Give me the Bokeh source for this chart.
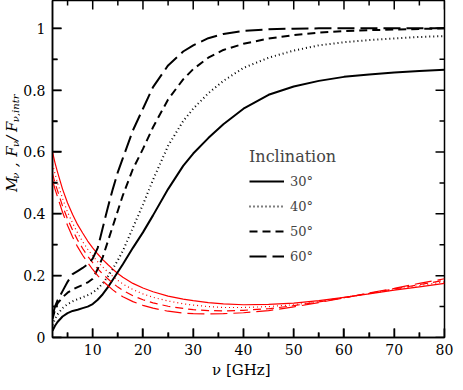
import math
from bokeh.plotting import figure
from bokeh.layouts import row
from bokeh.models import (Range1d, FixedTicker, LinearAxis, Legend, LegendItem, Label,
                          CustomJSTickFormatter)
from bokeh.embed import file_html
from bokeh.resources import INLINE

# frequency grid [GHz]
nu = [2, 2.5, 3, 4, 5, 6, 7, 8, 9, 10, 11, 12, 13, 14, 15, 16, 18, 20, 22, 25, 28, 30,
      33, 36, 40, 45, 50, 55, 60, 65, 70, 75, 80]

# M_nu (black) for inclinations 30,40,50,60 deg
m30 = [0.022, 0.038, 0.05, 0.068, 0.079, 0.086, 0.09, 0.095, 0.10, 0.108, 0.122, 0.14, 0.162,
       0.187, 0.212, 0.237, 0.29, 0.34, 0.395, 0.48, 0.555, 0.595, 0.645, 0.69, 0.74, 0.785,
       0.812, 0.83, 0.843, 0.851, 0.857, 0.862, 0.866]
m40 = [0.04, 0.06, 0.075, 0.095, 0.108, 0.117, 0.124, 0.13, 0.137, 0.145, 0.158, 0.175, 0.197,
       0.222, 0.25, 0.28, 0.355, 0.43, 0.51, 0.62, 0.70, 0.74, 0.79, 0.83, 0.872, 0.905,
       0.928, 0.945, 0.955, 0.962, 0.967, 0.972, 0.975]
m50 = [0.06, 0.09, 0.11, 0.13, 0.145, 0.155, 0.163, 0.17, 0.178, 0.19, 0.222, 0.26, 0.31,
       0.36, 0.41, 0.46, 0.545, 0.61, 0.68, 0.77, 0.835, 0.868, 0.905, 0.93, 0.95, 0.967,
       0.978, 0.986, 0.991, 0.994, 0.996, 0.998, 1.0]
m60 = [0.07, 0.10, 0.12, 0.15, 0.18, 0.205, 0.215, 0.225, 0.237, 0.255, 0.29, 0.355, 0.42,
       0.48, 0.535, 0.58, 0.67, 0.74, 0.81, 0.88, 0.925, 0.945, 0.968, 0.982, 0.992, 0.997,
       0.999, 1.0, 1.0, 1.0, 1.0, 1.0, 1.0]

# F_nu / F_nu,intr (red)
f30 = [0.60, 0.565, 0.535, 0.48, 0.435, 0.398, 0.365, 0.338, 0.312, 0.29, 0.27, 0.252, 0.236,
       0.221, 0.207, 0.195, 0.175, 0.16, 0.148, 0.134, 0.124, 0.119, 0.113, 0.109, 0.106,
       0.107, 0.111, 0.119, 0.13, 0.141, 0.153, 0.164, 0.175]
f40 = [0.56, 0.53, 0.50, 0.45, 0.405, 0.37, 0.338, 0.31, 0.286, 0.264, 0.245, 0.228, 0.212,
       0.198, 0.185, 0.173, 0.155, 0.141, 0.13, 0.118, 0.109, 0.105, 0.10, 0.097, 0.097,
       0.10, 0.106, 0.116, 0.129, 0.142, 0.155, 0.168, 0.18]
f50 = [0.53, 0.50, 0.475, 0.425, 0.383, 0.347, 0.315, 0.288, 0.263, 0.242, 0.222, 0.205, 0.19,
       0.176, 0.163, 0.152, 0.135, 0.122, 0.112, 0.101, 0.094, 0.09, 0.087, 0.086, 0.088,
       0.093, 0.103, 0.115, 0.129, 0.143, 0.157, 0.171, 0.185]
f60 = [0.51, 0.48, 0.455, 0.405, 0.362, 0.325, 0.293, 0.266, 0.242, 0.22, 0.20, 0.183, 0.168,
       0.154, 0.142, 0.132, 0.116, 0.104, 0.095, 0.085, 0.079, 0.077, 0.076, 0.077, 0.08,
       0.087, 0.099, 0.113, 0.128, 0.144, 0.159, 0.175, 0.19]

labels = ["30\u00b0", "40\u00b0", "50\u00b0", "60\u00b0"]
dashes = ["solid", "1 3", "8 5", "17 6"]
x_ticks = [10, 20, 30, 40, 50, 60, 70, 80]
x_minor = [5, 15, 25, 35, 45, 55, 65, 75]
y_ticks = [0, 0.2, 0.4, 0.6, 0.8, 1.0]
y_minor = [0.1, 0.3, 0.5, 0.7, 0.9]
X0, X1 = 2, 80
Y0, Y1 = 0, 1.09

SERIF = "DejaVu Serif"
FRAME_W, FRAME_H = 393, 337
MAJ, MIN = 9, 5  # tick lengths in px
H = 382

# ---------------- main plot ----------------
p = figure(width=435, height=H, output_backend="svg", toolbar_location=None,
           x_range=Range1d(X0, X1), y_range=Range1d(Y0, Y1),
           min_border_left=31, min_border_right=11, min_border_top=0,
           min_border_bottom=H - FRAME_H,
           x_axis_location=None, y_axis_location=None)
p.xgrid.visible = False
p.ygrid.visible = False
p.outline_line_color = "black"
p.outline_line_width = 1.5
p.background_fill_color = "white"
p.border_fill_color = "white"


def style_axis(ax, ticks, minor):
    ax.ticker = FixedTicker(ticks=ticks, minor_ticks=minor)
    ax.major_tick_in = MAJ
    ax.major_tick_out = 0
    ax.minor_tick_in = MIN
    ax.minor_tick_out = 0
    ax.axis_line_width = 1.5
    ax.major_tick_line_width = 1.5
    ax.minor_tick_line_width = 1.5
    ax.major_label_text_font = SERIF
    ax.major_label_text_font_size = "14px"
    ax.major_label_text_color = "black"


xb = LinearAxis()
style_axis(xb, x_ticks, x_minor)
xb.major_label_standoff = 6
xb.formatter = CustomJSTickFormatter(code="return tick.toFixed(0);")
xb.axis_label = "\u03bd    [GHz]"
xb.axis_label_text_font = SERIF
xb.axis_label_text_font_style = "normal"
xb.axis_label_text_font_size = "15px"
xb.axis_label_text_color = "black"
xb.axis_label_standoff = 3
p.add_layout(xb, "below")

yl = LinearAxis()
style_axis(yl, y_ticks, y_minor)
yl.major_label_standoff = 7
yl.formatter = CustomJSTickFormatter(
    code="return tick == 0 ? '0' : (Math.abs(tick - 1) < 1e-9 ? '1' : tick.toFixed(1));")
p.add_layout(yl, "left")

# inward ticks on all four edges, drawn as segments
ypx = (Y1 - Y0) / FRAME_H
xpx = (X1 - X0) / FRAME_W
for ticks, ln in ((x_ticks, MAJ), (x_minor, MIN)):
    n = len(ticks)
    p.segment(x0=ticks, y0=[Y0] * n, x1=ticks, y1=[Y0 + ln * ypx] * n,
              line_color="black", line_width=1.5)
    p.segment(x0=ticks, y0=[Y1] * n, x1=ticks, y1=[Y1 - ln * ypx] * n,
              line_color="black", line_width=1.5)
for ticks, ln in ((y_ticks, MAJ), (y_minor, MIN)):
    n = len(ticks)
    p.segment(x0=[X0] * n, y0=ticks, x1=[X0 + ln * xpx] * n, y1=ticks,
              line_color="black", line_width=1.5)
    p.segment(x0=[X1] * n, y0=ticks, x1=[X1 - ln * xpx] * n, y1=ticks,
              line_color="black", line_width=1.5)

black = [m30, m40, m50, m60]
red = [f30, f40, f50, f60]
items = []
for lab, dash, mb, fr in zip(labels, dashes, black, red):
    p.line(nu, fr, line_color="red", line_width=1.2, line_dash=dash)
    r = p.line(nu, mb, line_color="black", line_width=2, line_dash=dash)
    items.append(LegendItem(label=lab, renderers=[r]))

leg = Legend(items=items, location=(197, 70), title="Inclination",
             title_text_font=SERIF, title_text_font_size="16px", title_text_font_style="normal",
             label_text_font=SERIF, label_text_font_size="13px",
             glyph_width=35, glyph_height=22, label_height=22, spacing=3,
             label_standoff=6, padding=0, margin=0, title_standoff=4,
             border_line_alpha=0, background_fill_alpha=0)
p.add_layout(leg)

# ---------------- y-axis label strip (page-pixel coordinates) ----------------
ylab = figure(width=20, height=H, output_backend="svg", toolbar_location=None,
              x_range=Range1d(8, 28), y_range=Range1d(8 + H, 8),
              min_border=0, x_axis_location=None, y_axis_location=None)
ylab.grid.visible = False
ylab.outline_line_color = None
ylab.background_fill_color = "white"
ylab.border_fill_color = "white"

base_x, base_y = 19.5, 225
pieces = [
    ("M", 15, 0, 0),
    ("\u03bd", 10, 3, 15),
    (",", 15, 0, 28),
    ("F", 15, 0, 40),
    ("\u03bd", 10, 3, 51),
    ("/", 15, 0, 58),
    ("F", 15, 0, 68),
    ("\u03bd,intr", 10, 3, 79),
]
for txt, size, sub, off in pieces:
    ylab.add_layout(Label(x=base_x + sub, y=base_y - off,
                          text=txt, angle=math.pi / 2, text_font=SERIF,
                          text_font_style="italic", text_font_size=f"{size}px",
                          text_baseline="alphabetic", text_align="left", text_color="black"))

layout = row(ylab, p, spacing=0)
open("out.html", "w").write(file_html(layout, INLINE))
